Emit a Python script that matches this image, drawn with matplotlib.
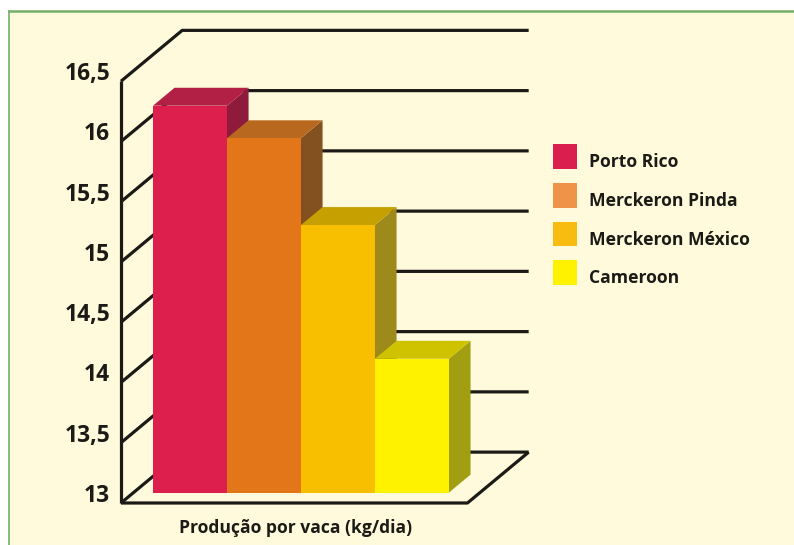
import matplotlib
matplotlib.use("Agg")
import matplotlib.pyplot as plt
from matplotlib.patches import Polygon, Patch, Rectangle
from matplotlib.lines import Line2D
from matplotlib.legend_handler import HandlerPatch

# ---- data ----
categories = ["Porto Rico", "Merckeron Pinda", "Merckeron México", "Cameroon"]
values = [16.21, 15.94, 15.22, 14.11]
front_colors = ["#DC1F4C", "#E37618", "#F7BF00", "#FFF200"]
top_colors = ["#B32045", "#B8691F", "#C6A000", "#CFC300"]
side_colors = ["#8E1B3C", "#83501F", "#9E8A1A", "#A29E12"]
legend_colors = ["#DA1F4E", "#EE9347", "#F7BC0F", "#FFF200"]
y_ticks = [13, 13.5, 14, 14.5, 15, 15.5, 16, 16.5]
y_tick_labels = ["13", "13,5", "14", "14,5", "15", "15,5", "16", "16,5"]
x_label = "Produção por vaca (kg/dia)"

FONT = ["Open Sans", "DejaVu Sans"]
BG = "#FEFADB"
INK = "#1B1A17"

W, H = 794, 545
fig = plt.figure(figsize=(W / 100, H / 100), dpi=100)
fig.patch.set_facecolor("white")

# cream panel with green frame on top and left
fig.patches.append(Rectangle((9 / W, 0), 1, 1 - 11 / H, transform=fig.transFigure,
                             facecolor=BG, edgecolor="none", zorder=-5))
fig.add_artist(Line2D([9 / W, 1], [1 - 10.5 / H, 1 - 10.5 / H], transform=fig.transFigure,
                      color="#76AE66", lw=1.8, zorder=-4))
fig.add_artist(Line2D([9 / W, 9 / W], [0, 1 - 10.5 / H], transform=fig.transFigure,
                      color="#76AE66", lw=1.2, zorder=-4))

# axes laid out so that one category = 74 px and one kg = 120.5 px
PX_X, PX_V = 74.0, 120.5
XLIM = (-2, 8)
YLIM = (12.6, 17.0)
left_px = 190 - (0 - XLIM[0]) * PX_X
bottom_px = 492.5 + (13 - YLIM[0]) * PX_V
ax = fig.add_axes([left_px / W,
                   (H - bottom_px) / H,
                   (XLIM[1] - XLIM[0]) * PX_X / W,
                   (YLIM[1] - YLIM[0]) * PX_V / H])
ax.set_xlim(*XLIM)
ax.set_ylim(*YLIM)
ax.axis("off")
ax.patch.set_alpha(0)

# oblique depth: pixels along the receding direction
DIR = (0.77, 0.64)
BAR_PLANE = 16.4      # depth of the bars' front faces
BAR_DEPTH = 28.0
BOX_DEPTH = 79.5


def at(x, v, d):
    """Point (x, v) pushed back to depth d (pixels), in data coordinates."""
    dd = d - BAR_PLANE
    return (x + dd * DIR[0] / PX_X, v + dd * DIR[1] / PX_V)


X_L, X_R = -0.762, 3.92
base = y_ticks[0]
top = y_ticks[-1]
line_kw = dict(color=INK, lw=2.3, solid_capstyle="butt", zorder=1)

# left wall: front vertical + receding tick lines; back wall gridlines
p0, p1 = at(X_L, base, 0), at(X_L, top, 0)
ax.plot([p0[0], p1[0]], [p0[1], p1[1]], **line_kw)
for t in y_ticks:
    a, b, c = at(X_L, t, 0), at(X_L, t, BOX_DEPTH), at(X_R, t, BOX_DEPTH)
    ax.plot([a[0], b[0], c[0]], [a[1], b[1], c[1]], **line_kw)
# floor front edge and right edge
a, b, c = at(X_L, base, 0), at(X_R, base, 0), at(X_R, base, BOX_DEPTH)
ax.plot([a[0], b[0], c[0]], [a[1], b[1], c[1]], **line_kw)

# tick labels
for t, lab in zip(y_ticks, y_tick_labels):
    px, py = at(X_L, t, 0)
    ax.text(px - 11 / PX_X, py + 1 / PX_V, lab, ha="right", va="baseline",
            fontsize=16.5, fontweight="bold", color=INK, family=FONT)

# bars
xs = list(range(len(values)))
for i, (x, v) in enumerate(zip(xs, values)):
    z = 3 + 3 * i
    ax.bar(x, v - base, bottom=base, width=1.0, color=front_colors[i],
           edgecolor="none", zorder=z + 2)
    side = [(x + 0.5, base), (x + 0.5, v),
            at(x + 0.5, v, BAR_PLANE + BAR_DEPTH), at(x + 0.5, base, BAR_PLANE + BAR_DEPTH)]
    ax.add_patch(Polygon(side, closed=True, facecolor=side_colors[i],
                         edgecolor="none", zorder=z))
    topf = [(x - 0.5, v), (x + 0.5, v),
            at(x + 0.5, v, BAR_PLANE + BAR_DEPTH), at(x - 0.5, v, BAR_PLANE + BAR_DEPTH)]
    ax.add_patch(Polygon(topf, closed=True, facecolor=top_colors[i],
                         edgecolor="none", zorder=z + 1))

# axis title under the floor
fig.text(296 / W, 1 - 528 / H, x_label, ha="center", va="center",
         fontsize=12.6, fontweight="bold", color=INK, family=FONT)


class RaisedSquare(HandlerPatch):
    """Legend swatch whose bottom sits near the label baseline."""
    LIFT = 3.6  # points

    def create_artists(self, legend, orig_handle, xdescent, ydescent,
                       width, height, fontsize, trans):
        sq = Rectangle((-xdescent, -ydescent + self.LIFT), width, height,
                       facecolor=orig_handle.get_facecolor(), edgecolor="none",
                       transform=trans)
        return [sq]


# legend
LEG_FS = 12.6
handles = [Patch(facecolor=c, edgecolor="none") for c in legend_colors]
leg = fig.legend(handles, categories, loc="upper left",
                 bbox_to_anchor=(553 / W, 1 - 149 / H), frameon=False,
                 prop={"family": FONT, "weight": "bold", "size": LEG_FS},
                 handlelength=1.37, handleheight=1.8, labelspacing=0.8,
                 handletextpad=0.68, borderpad=0, borderaxespad=0,
                 handler_map={Patch: RaisedSquare()})
for txt in leg.get_texts():
    txt.set_color(INK)

fig.savefig("out.png", dpi=100, facecolor=fig.get_facecolor())
